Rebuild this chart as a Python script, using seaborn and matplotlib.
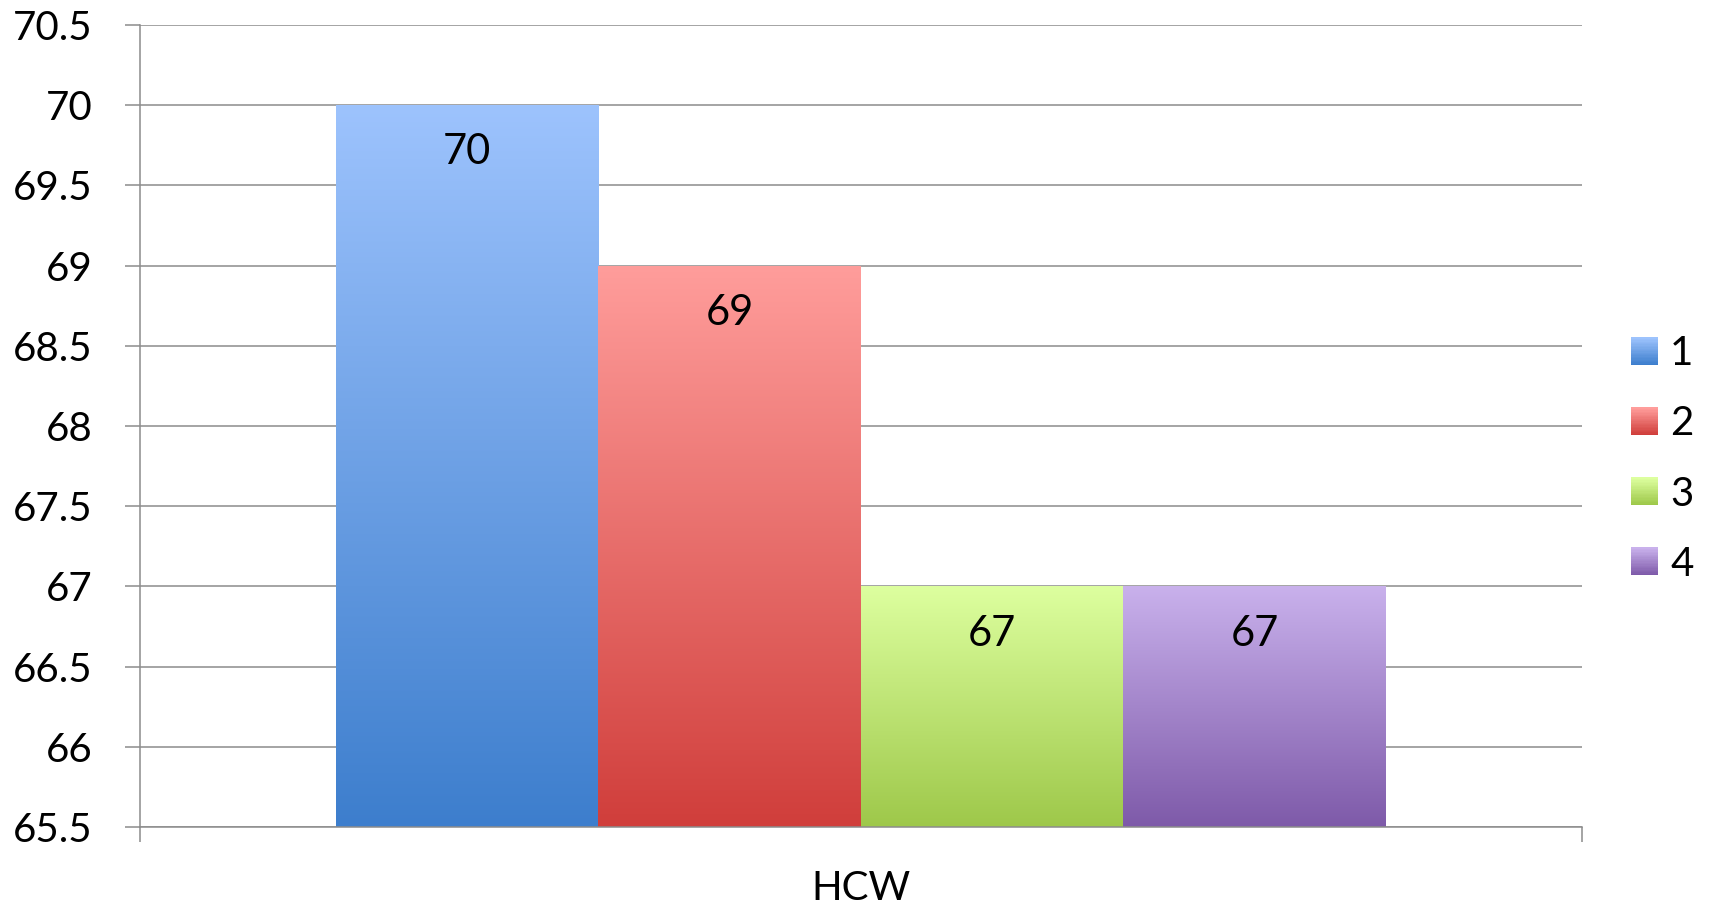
import matplotlib.pyplot as plt
import matplotlib.colors as mcolors
import numpy as np
import pandas as pd
import seaborn as sns
from matplotlib.legend_handler import HandlerBase
from matplotlib.patches import Rectangle

# data
groups = ['HCW']
series = ['1', '2', '3', '4']
values = [70, 69, 67, 67]
y_ticks = [65.5, 66, 66.5, 67, 67.5, 68, 68.5, 69, 69.5, 70, 70.5]

# gradient colours per series (top, bottom)
top_colors = ['#9dc3fd', '#ff9d9b', '#ddff9f', '#c9b1ec']
bottom_colors = ['#3d7ecd', '#d03e3b', '#9ec84a', '#7e5aa9']

df = pd.DataFrame({'group': groups * len(series), 'series': series, 'value': values})

sns.set_style('white')
plt.rcParams['font.family'] = ['Lato', 'DejaVu Sans']
plt.rcParams['text.color'] = 'black'
plt.rcParams['xtick.labelcolor'] = 'black'
plt.rcParams['ytick.labelcolor'] = 'black'

fig = plt.figure(figsize=(17.15, 9.08), dpi=100)
ax = fig.add_axes([0.0816, 0.0892, 0.8408, 0.8833])

sns.barplot(data=df, x='group', y='value', hue='series', palette=bottom_colors,
            width=0.728, ax=ax, legend=False, linewidth=0, saturation=1)

ymin, ymax = 65.5, 70.5


def gradient_img(c_top, c_bot, n=256):
    t = np.linspace(0, 1, n)[:, None]
    a = np.array(mcolors.to_rgb(c_top))
    b = np.array(mcolors.to_rgb(c_bot))
    return (a * (1 - t) + b * t)[:, None, :].repeat(2, axis=1)


# replace flat bars with vertical gradients
for patch, ct, cb, v in zip(ax.patches, top_colors, bottom_colors, values):
    x0 = patch.get_x()
    w = patch.get_width()
    patch.set_facecolor('none')
    img = ax.imshow(gradient_img(ct, cb), extent=[x0, x0 + w, ymin, v],
                    aspect='auto', origin='upper', zorder=2)
    img.set_clip_path(patch)
    ax.annotate(str(v), xy=(x0 + w / 2, v), xytext=(0, -34), textcoords='offset points',
                ha='center', va='center', fontsize=30, color='black', zorder=4)

ax.set_ylim(ymin, ymax)
ax.set_xlim(-0.5, 0.5)

# grid / axes styling
ax.set_yticks(y_ticks)
ax.set_yticklabels([('%g' % t) for t in y_ticks])
ax.yaxis.grid(True, color='#8c8c8c', linewidth=1.1)
ax.set_axisbelow(True)
ax.tick_params(axis='y', length=11, width=1.1, color='#8c8c8c', pad=23, labelsize=29, left=True)
ax.set_xticks([0])
ax.set_xticklabels(groups)
ax.set_xticks([-0.5, 0.5], minor=True)
ax.tick_params(axis='x', which='major', length=0, pad=31, labelsize=29)
ax.tick_params(axis='x', which='minor', length=11, width=1.1, color='#8c8c8c', bottom=True)
ax.set_xlabel('')
ax.set_ylabel('')
for s in ['top', 'right']:
    ax.spines[s].set_visible(False)
for s in ['left', 'bottom']:
    ax.spines[s].set_color('#8c8c8c')
    ax.spines[s].set_linewidth(1.1)


class GradientHandler(HandlerBase):
    def __init__(self, ct, cb):
        super().__init__()
        self.ct, self.cb = ct, cb

    def create_artists(self, legend, orig_handle, xdescent, ydescent, width, height, fontsize, trans):
        n = 20
        a = np.array(mcolors.to_rgb(self.ct))
        b = np.array(mcolors.to_rgb(self.cb))
        arts = []
        for i in range(n):
            t = i / (n - 1)
            col = b * (1 - t) + a * t
            r = Rectangle((-xdescent, -ydescent + height * i / n), width, height / n + 0.3,
                          facecolor=col, edgecolor='none', transform=trans)
            arts.append(r)
        return arts


handles = [Rectangle((0, 0), 1, 1) for _ in series]
handler_map = {h: GradientHandler(ct, cb) for h, ct, cb in zip(handles, top_colors, bottom_colors)}
fig.legend(handles, series, handler_map=handler_map, loc='center left',
           bbox_to_anchor=(1631 / 1715, 1 - 459 / 908), frameon=False, fontsize=29,
           handlelength=0.67, handleheight=0.67, labelspacing=0.82, handletextpad=0.3,
           borderpad=0, borderaxespad=0)

fig.savefig('out.png', dpi=100)
